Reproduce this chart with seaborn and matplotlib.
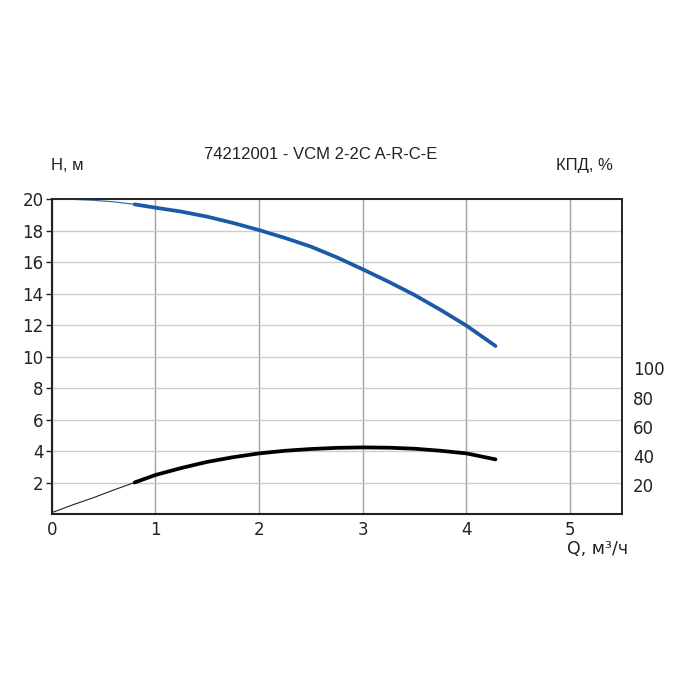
import matplotlib
matplotlib.use("Agg")
import matplotlib.pyplot as plt
import seaborn as sns
import pandas as pd
import numpy as np

# ---- data ----
q_vals = [0.0, 0.2, 0.4, 0.6, 0.8, 1.0, 1.25, 1.5, 1.75, 2.0, 2.25, 2.5,
          2.75, 3.0, 3.25, 3.5, 3.75, 4.0, 4.28]
head_m = [20.0, 19.98, 19.92, 19.82, 19.66, 19.45, 19.2, 18.88, 18.48, 18.03,
          17.53, 16.98, 16.3, 15.54, 14.75, 13.91, 12.97, 11.97, 10.68]
eff_pct = [1.2, 6.5, 11.4, 16.8, 21.9, 27.0, 31.8, 36.0, 39.2, 41.8, 43.6,
           44.8, 45.6, 45.9, 45.7, 45.0, 43.6, 41.8, 37.7]
q_work_min = 0.8

x_ticks = [0, 1, 2, 3, 4, 5]
h_ticks = [2, 4, 6, 8, 10, 12, 14, 16, 18, 20]
h_ticklabels = ["2", "4", "6", "8", "10", "12", "14", "16", "18", "20"]
eff_ticks = [20, 40, 60, 80, 100]

title = "74212001 - VCM 2-2C A-R-C-E"
ylabel_left = "H, м"
ylabel_right = "КПД, %"
xlabel = "Q, м³/ч"

df = pd.DataFrame({"Q": q_vals, "H": head_m, "eta": eff_pct})
thin = df[df["Q"] <= q_work_min]
thick = df[df["Q"] >= q_work_min]

sns.set_style("white")
plt.rcParams["font.family"] = ["DejaVu Sans"]

fig = plt.figure(figsize=(7, 7), dpi=100)
ax = fig.add_axes([0.0739, 0.2651, 0.8147, 0.4506])
ax2 = ax.twinx()

blue = "#1c5aa6"
sns.lineplot(data=thin, x="Q", y="H", ax=ax, color="#3b6fb0", lw=0.9, zorder=3)
sns.lineplot(data=thick, x="Q", y="H", ax=ax, color=blue, lw=2.7, zorder=3)
sns.lineplot(data=thin, x="Q", y="eta", ax=ax2, color="#222222", lw=0.8, zorder=3)
sns.lineplot(data=thick, x="Q", y="eta", ax=ax2, color="black", lw=2.7, zorder=3)

ax.set_xlim(0, 5.5)
ax.set_ylim(0, 20)
ax2.set_ylim(0, 216)

ax.set_xticks(x_ticks)
ax.set_yticks(h_ticks)
ax.set_yticklabels(h_ticklabels)
ax2.set_yticks(eff_ticks)

ax.xaxis.grid(True, color="#a0a0a0", lw=1.0)
ax.yaxis.grid(True, color="#cccccc", lw=1.0)
ax.set_axisbelow(True)
ax2.grid(False)

ax.set_xlabel("")
ax.set_ylabel("")
ax2.set_ylabel("")

ax.tick_params(axis="both", which="major", labelsize=12, colors="#222222",
               length=4, width=1, direction="out", pad=2)
ax.tick_params(axis="x", pad=1)
ax2.tick_params(axis="y", labelsize=12, labelcolor="#222222", length=0, pad=8)

for a in (ax, ax2):
    for s in a.spines.values():
        s.set_color("#222222")
        s.set_linewidth(1.2)
ax.spines["left"].set_linewidth(1.5)
ax.spines["bottom"].set_linewidth(1.5)

fig.text(0.458, 0.779, title, ha="center", va="center", fontsize=12,
         family="Liberation Sans", color="#222222")
fig.text(0.073, 0.763, ylabel_left, ha="left", va="center", fontsize=12,
         family="Liberation Sans", color="#222222")
fig.text(0.875, 0.763, ylabel_right, ha="right", va="center", fontsize=12,
         family="Liberation Sans", color="#222222")
fig.text(0.81, 0.216, xlabel, ha="left", va="center", fontsize=12.5,
         color="#222222")

fig.savefig("out.png", dpi=100, facecolor="white")
